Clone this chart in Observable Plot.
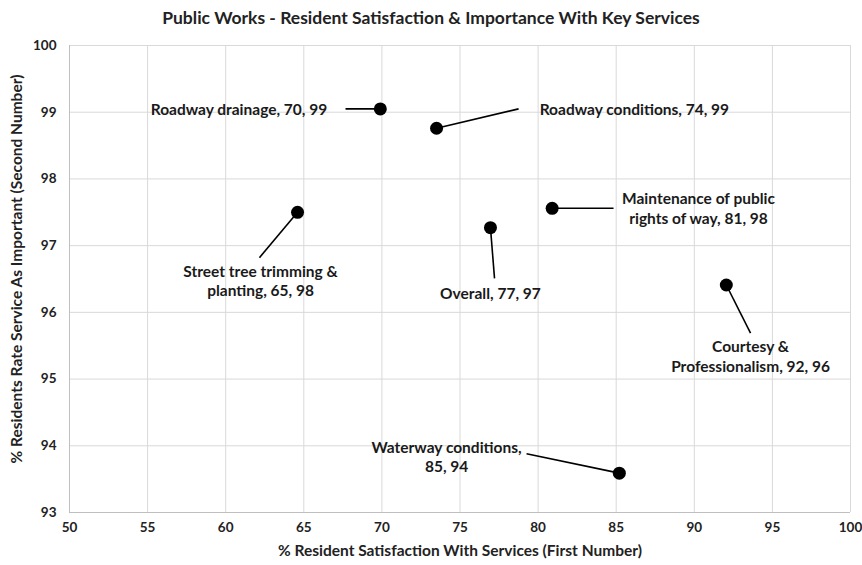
<!DOCTYPE html>
<html>
<head>
<meta charset="utf-8">
<script src="https://cdn.jsdelivr.net/npm/d3@7"></script>
<script src="https://cdn.jsdelivr.net/npm/@observablehq/plot@0.6"></script>
<style>
  html, body { margin: 0; padding: 0; background: #fff; }
  #title { width: 862px; height: 30px; line-height: 30px; padding-top: 3px; box-sizing: border-box;
           text-align: center; font-family: Lato, "Open Sans", sans-serif; font-weight: 700; font-size: 17.5px; color: #222; }
  #chart svg { display: block; }
</style>
</head>
<body>
<div id="title">Public Works - Resident Satisfaction &amp; Importance With Key Services</div>
<div id="chart"></div>
<script>
const services = ["Roadway drainage", "Roadway conditions", "Street tree trimming & planting", "Overall",
  "Maintenance of public rights of way", "Courtesy & Professionalism", "Waterway conditions"];
const satisfaction = [69.9, 73.5, 64.6, 76.95, 80.9, 92.05, 85.2];
const importance = [99.05, 98.76, 97.50, 97.27, 97.56, 96.41, 93.59];
const labelText = ["Roadway drainage, 70, 99", "Roadway conditions, 74, 99", "Street tree trimming &\nplanting, 65, 98",
  "Overall, 77, 97", "Maintenance of public\nrights of way, 81, 98", "Courtesy &\nProfessionalism, 92, 96",
  "Waterway conditions,\n85, 94"];
// leader-line ends and label anchors, in data units
const leaderX = [67.67, 78.75, 62.16, 77.21, 84.83, 93.6, 79.26];
const leaderY = [99.05, 99.05, 96.82, 96.51, 97.56, 95.69, 93.88];
const labelX = [66.5, 80.1, 62.23, 76.95, 90.27, 93.6, 74.14];
const labelY = [99.05, 99.05, 96.48, 96.29, 97.57, 95.35, 93.84];
const labelAnchor = ["end", "start", "middle", "middle", "middle", "middle", "middle"];
const xTicks = [50, 55, 60, 65, 70, 75, 80, 85, 90, 95, 100];
const yTicks = [93, 94, 95, 96, 97, 98, 99, 100];

const data = services.map((s, i) => ({
  service: s, x: satisfaction[i], y: importance[i], lx: leaderX[i], ly: leaderY[i],
  tx: labelX[i], ty: labelY[i], text: labelText[i], anchor: labelAnchor[i]
}));

const font = "Lato, 'Open Sans', sans-serif";

const chart = Plot.plot({
  width: 862,
  height: 535,
  marginLeft: 69,
  marginRight: 12,
  marginTop: 15,
  marginBottom: 53,
  style: { fontFamily: font, fontSize: "13px", fontWeight: 700, color: "#222", background: "#fff" },
  x: { domain: [50, 100], ticks: xTicks, label: null },
  y: { domain: [93, 100], ticks: yTicks, label: null },
  marks: [
    Plot.gridX(xTicks, { stroke: "#d9d9d9", strokeOpacity: 1, strokeWidth: 1 }),
    Plot.gridY(yTicks, { stroke: "#d9d9d9", strokeOpacity: 1, strokeWidth: 1 }),
    Plot.ruleY([93], { stroke: "#bfbfbf", strokeWidth: 1 }),
    Plot.ruleX([50], { stroke: "#bfbfbf", strokeWidth: 1 }),
    Plot.axisX(xTicks, { tickSize: 0, tickPadding: 10, fontSize: 13.5, fontWeight: 700, fill: "#222", label: null, tickFormat: d3.format("d") }),
    Plot.axisY(yTicks, { tickSize: 0, tickPadding: 13, fontSize: 13.5, fontWeight: 700, fill: "#222", label: null, tickFormat: d3.format("d") }),
    Plot.text(["% Resident Satisfaction With Services (First Number)"], {
      frameAnchor: "bottom", textAnchor: "middle", lineAnchor: "middle", dy: 39, fontSize: 15.5, fontWeight: 700, fill: "#222"
    }),
    Plot.text(["% Residents Rate Service As Important (Second Number)"], {
      frameAnchor: "left", textAnchor: "middle", lineAnchor: "middle", dx: -52, dy: -10, rotate: -90, fontSize: 15.5, fontWeight: 700, fill: "#222"
    }),
    Plot.link(data, { x1: "x", y1: "y", x2: "lx", y2: "ly", stroke: "#000", strokeWidth: 1.6 }),
    Plot.dot(data, { x: "x", y: "y", r: 6.5, fill: "#000", stroke: "none" }),
    ...["start", "middle", "end"].map(a => Plot.text(data.filter(d => d.anchor === a), {
      x: "tx", y: "ty", text: "text", textAnchor: a, lineAnchor: "middle", lineHeight: 1.26,
      fontSize: 15.5, fontWeight: 700, fill: "#1a1a1a"
    }))
  ]
});
document.getElementById("chart").appendChild(chart);
</script>
</body>
</html>
